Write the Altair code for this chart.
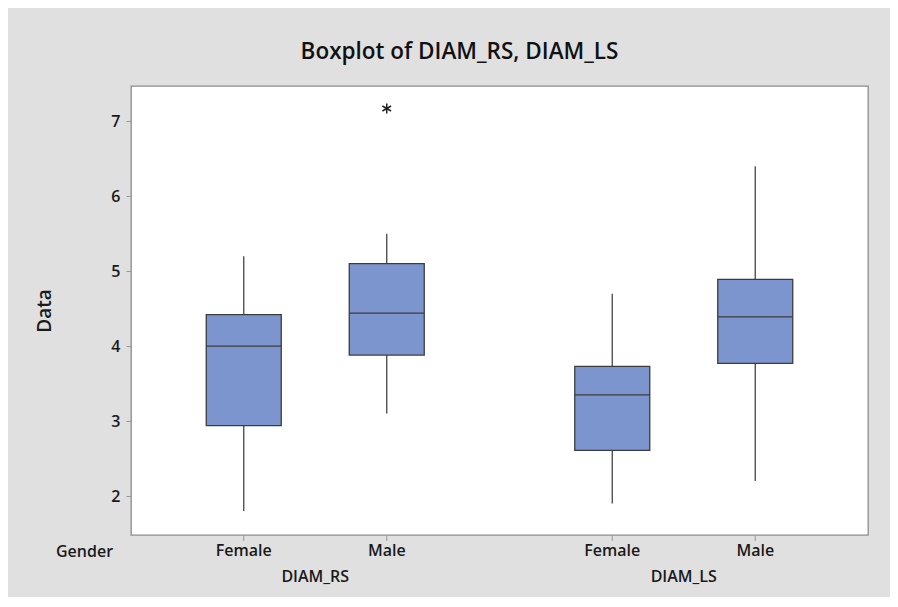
import altair as alt
import pandas as pd

# ---- data ----
variables = ["DIAM_RS", "DIAM_RS", "DIAM_LS", "DIAM_LS"]
genders = ["Female", "Male", "Female", "Male"]
whisker_low = [1.8, 3.1, 1.9, 2.2]
q1 = [2.94, 3.88, 2.61, 3.77]
median = [4.0, 4.44, 3.35, 4.39]
q3 = [4.42, 5.1, 3.73, 4.89]
whisker_high = [5.2, 5.5, 4.7, 6.4]

outlier_variable = ["DIAM_RS"]
outlier_gender = ["Male"]
outlier_value = [7.17]

group_order = ["DIAM_RS", "DIAM_LS"]
gender_order = ["Female", "Male"]
y_ticks = [2, 3, 4, 5, 6, 7]

df = pd.DataFrame({
    "Variable": variables, "Gender": genders, "lo": whisker_low,
    "q1": q1, "med": median, "q3": q3, "hi": whisker_high,
})
out = pd.DataFrame({"Variable": outlier_variable, "Gender": outlier_gender,
                    "v": outlier_value})

FONT = "Open Sans"
LBL = 16
LW = 600
W, H = 737, 449

x = alt.X("Variable:N", sort=group_order,
          scale=alt.Scale(domain=group_order, paddingInner=0.3, paddingOuter=0.15),
          axis=alt.Axis(title="Gender", ticks=False, domain=False, labelPadding=33,
                        labelFontSize=LBL, labelFont=FONT, labelColor="#1a1a1a",
                        labelFontWeight=LW, labelAngle=0,
                        titleFont=FONT, titleFontSize=LBL, titleFontWeight=LW,
                        titleColor="#1a1a1a", titleX=-47, titleY=16,
                        titleAlign="center", titleBaseline="middle"))
xo = alt.XOffset("Gender:N", sort=gender_order,
                 scale=alt.Scale(domain=gender_order, paddingInner=0.4755,
                                 paddingOuter=0.1397))
yscale = alt.Scale(domain=[1.48, 7.47], nice=False, zero=False)
y = alt.Y("q1:Q", scale=yscale,
          axis=alt.Axis(title="Data", values=y_ticks, format="d", grid=False,
                        domain=False, tickColor="#999", tickSize=5, labelPadding=6,
                        labelFont=FONT, labelFontSize=LBL, labelColor="#1a1a1a",
                        labelFontWeight=LW,
                        titleFont=FONT, titleFontSize=19, titleFontWeight=LW,
                        titleColor="#1a1a1a", titleX=-87, titleY=H / 2,
                        titleAngle=-90, titleAlign="center", titleBaseline="middle"))

base = alt.Chart(df)

whisk_lo = base.mark_rule(color="#444", strokeWidth=1.3).encode(
    x=x, xOffset=xo, y=alt.Y("lo:Q", scale=yscale), y2="q1:Q")
whisk_hi = base.mark_rule(color="#444", strokeWidth=1.3).encode(
    x=x, xOffset=xo, y=alt.Y("q3:Q", scale=yscale), y2="hi:Q")
box = base.mark_bar(color="#7d95cf", stroke="#3c3c3c", strokeWidth=1.3).encode(
    x=x, xOffset=xo, y=y, y2="q3:Q")
med = base.mark_bar(fill="#7d95cf", stroke="#3c3c3c", strokeWidth=1.3).encode(
    x=x, xOffset=xo, y=alt.Y("med:Q", scale=yscale), y2="med:Q")
xticks = base.mark_rule(color="#999", strokeWidth=1).encode(
    x=x, xOffset=xo, y=alt.value(H), y2=alt.value(H + 6))
gender_labels = base.mark_text(font=FONT, fontSize=LBL, fontWeight=LW,
                               color="#1a1a1a", baseline="middle").encode(
    x=x, xOffset=xo, y=alt.value(H + 16), text="Gender:N")

asterisk = "M0,-1L0,1M-0.866,-0.5L0.866,0.5M-0.866,0.5L0.866,-0.5"
outl = alt.Chart(out).mark_point(shape=asterisk, size=100, filled=False,
                                 stroke="#222", strokeWidth=1.5, opacity=1).encode(
    x=x, xOffset=xo, y=alt.Y("v:Q", scale=yscale))

chart = alt.layer(whisk_lo, whisk_hi, box, med, outl, xticks, gender_labels).properties(
    width=W, height=H,
    title=alt.TitleParams("Boxplot of DIAM_RS, DIAM_LS", font=FONT, fontSize=22.5,
                          fontWeight=600, color="#111", anchor="middle",
                          dx=-40, offset=23),
    autosize=alt.AutoSizeParams(type="none"),
    padding={"left": 123, "top": 78, "right": 22, "bottom": 62},
).configure(background="#e0e0e0").configure_view(stroke="#8c8c8c", strokeWidth=1.3,
                                                 fill="white")

chart.save("out.html", embed_options={"renderer": "svg", "actions": False})
